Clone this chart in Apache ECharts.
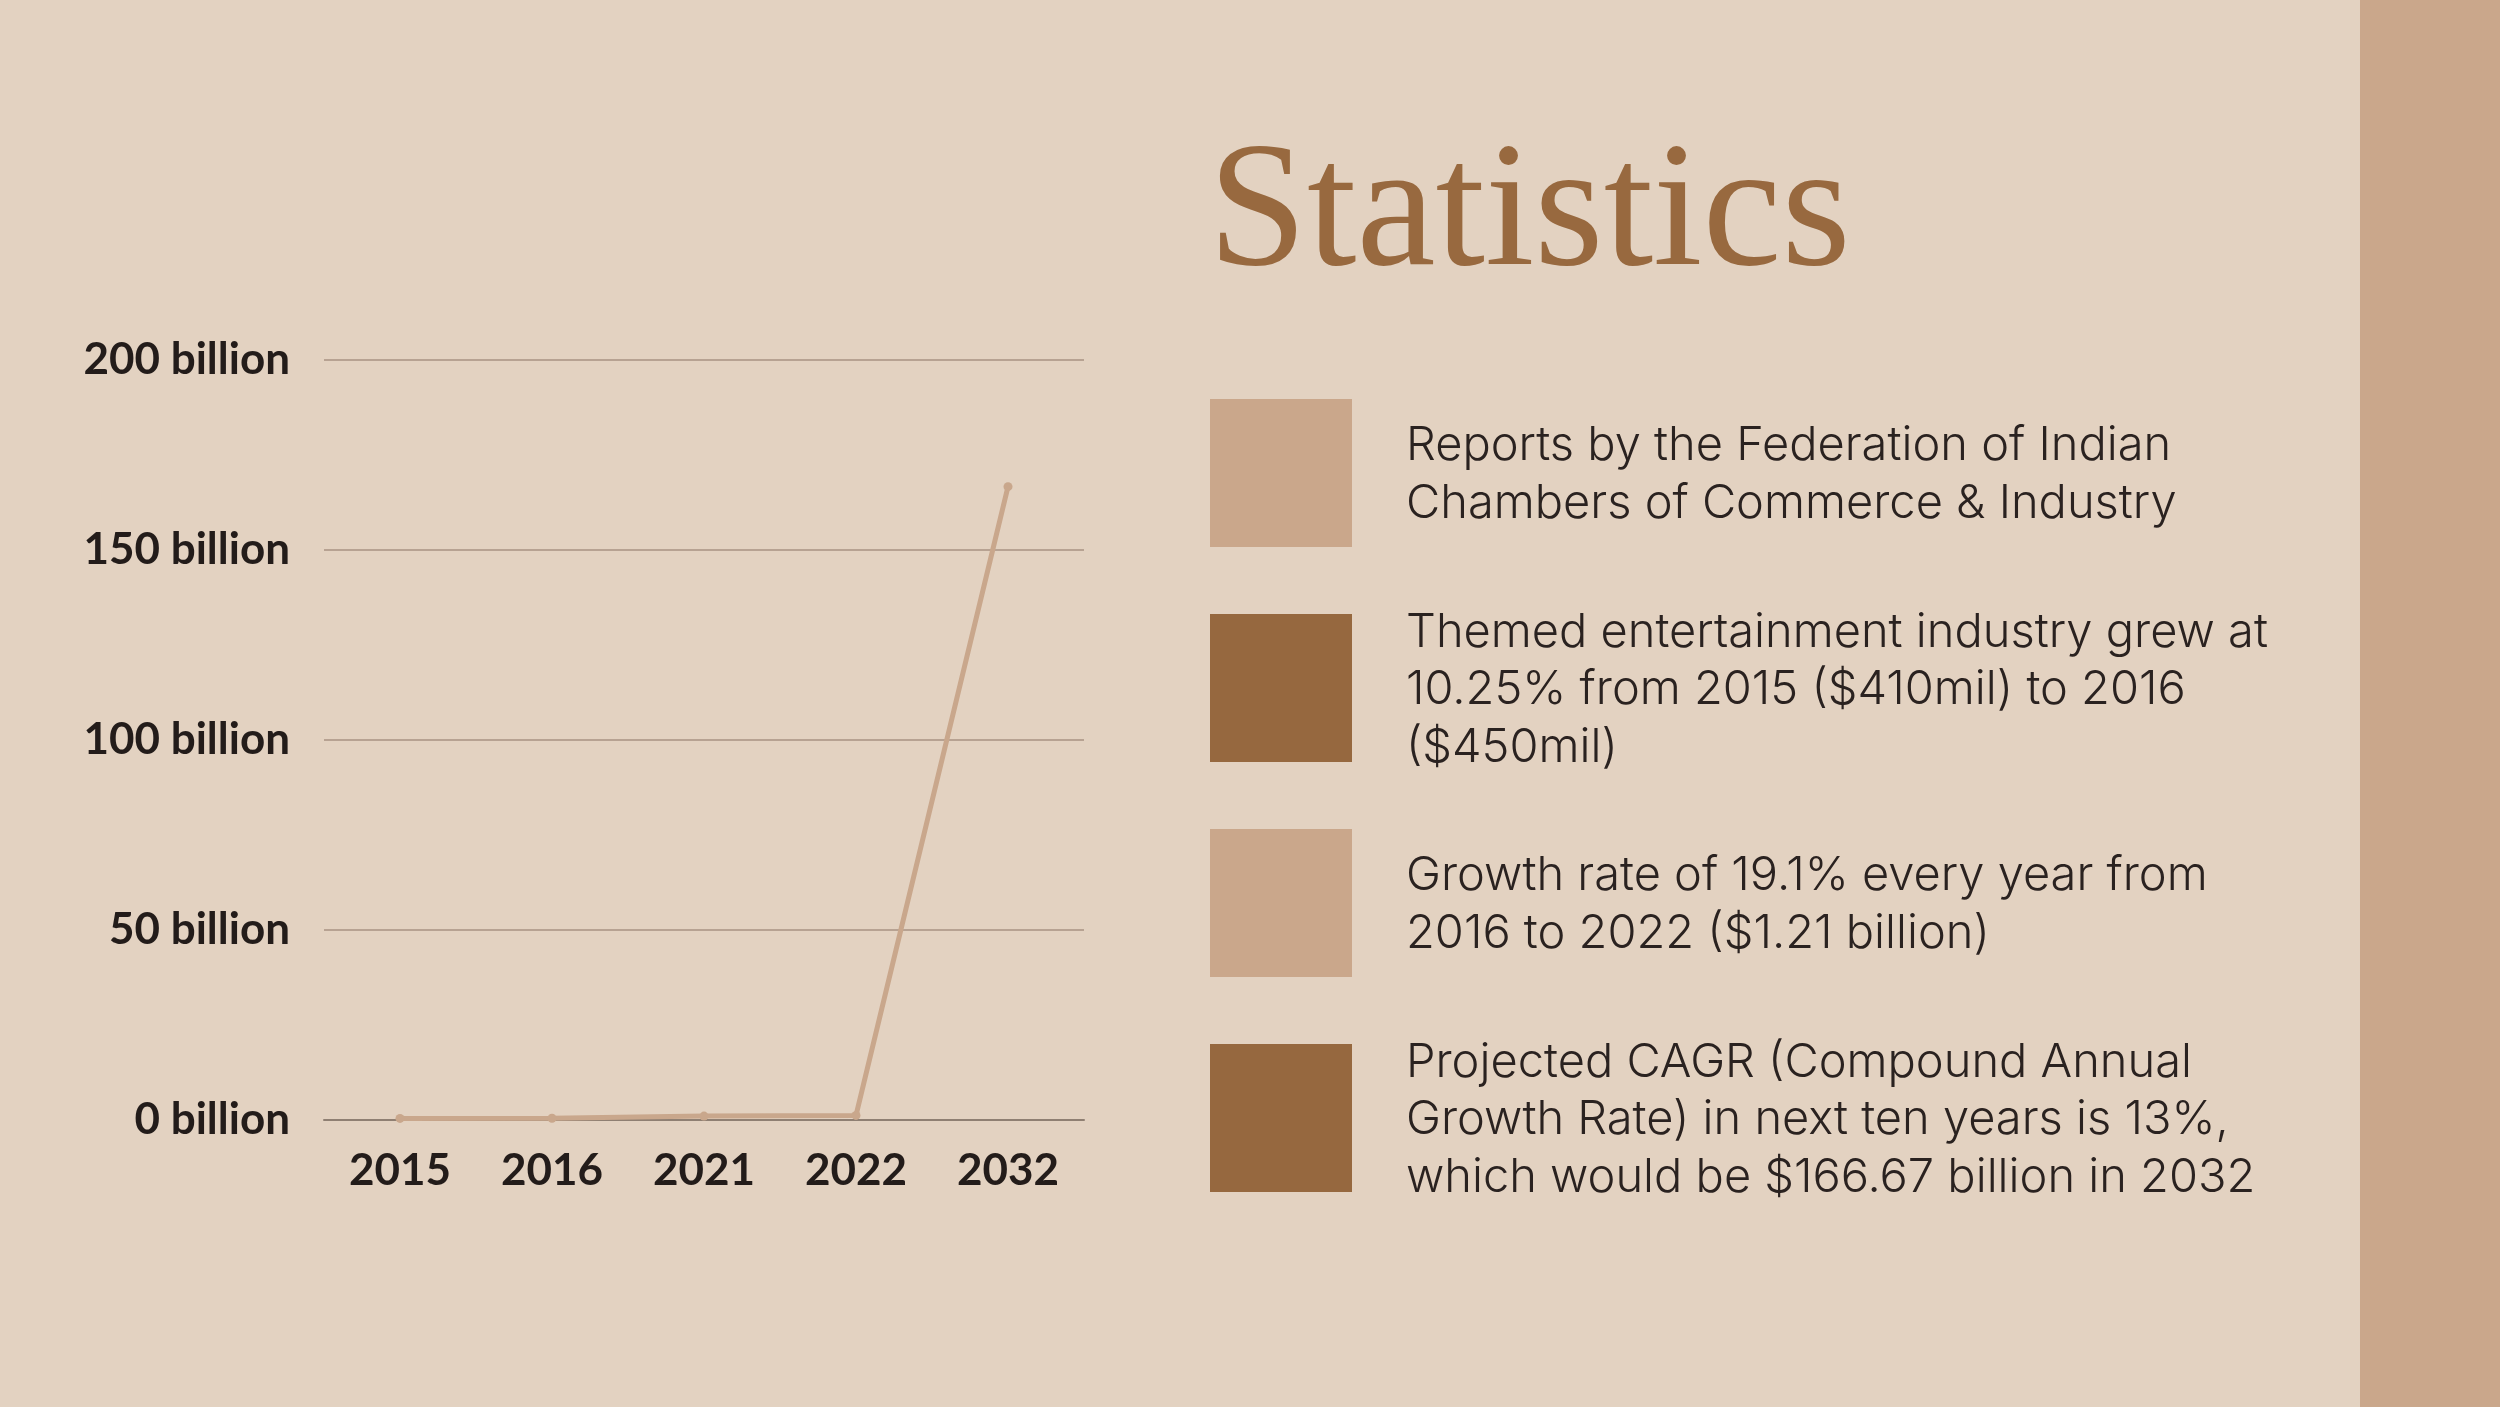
<!DOCTYPE html>
<html>
<head>
<meta charset="utf-8">
<style>
  html, body { margin: 0; padding: 0; background: #E3D2C1; }
  #main { width: 2500px; height: 1407px; }
</style>
<script src="https://cdn.jsdelivr.net/npm/echarts@6/dist/echarts.min.js"></script>
</head>
<body>
<div id="main"></div>
<script>
// market size by year (billions of USD)
var years = ['2015', '2016', '2021', '2022', '2032'];
var marketSize = [0.41, 0.45, 1.02, 1.21, 166.67];
var yTicks = [0, 50, 100, 150, 200];

// notes shown at the right, one block per square
var notes = [
    ['Reports by the Federation of Indian', 'Chambers of Commerce & Industry'],
    ['Themed entertainment industry grew at', '10.25% from 2015 ($410mil) to 2016', '($450mil)'],
    ['Growth rate of 19.1% every year from', '2016 to 2022 ($1.21 billion)'],
    ['Projected CAGR (Compound Annual', 'Growth Rate) in next ten years is 13%,', 'which would be $166.67 billion in 2032']
];
var noteColors = ['#CAA78B', '#96683F', '#CAA78B', '#96683F'];

var myChart = echarts.init(document.getElementById('main'));

// 右侧的方块和说明文字
var graphics = [
    { type: 'rect', left: 2360, top: 0, shape: { width: 140, height: 1407 }, style: { fill: '#CAA78B' } },
    {
        type: 'text', left: 1208, top: 128,
        style: { text: 'Statistics', font: '178px "Liberation Serif"', fill: '#98693F' }
    }
];
var rowTops = [399, 614, 829, 1044];
notes.forEach(function (lines, i) {
    graphics.push({
        type: 'rect', left: 1210, top: rowTops[i],
        shape: { width: 142, height: 148 },
        style: { fill: noteColors[i] }
    });
    var mid = rowTops[i] + 74;
    graphics.push({
        type: 'text', left: 1406, top: mid - lines.length * 57.5 / 2 + 2,
        style: {
            text: lines.join('\n'),
            font: '300 47px Inter',
            lineHeight: 57.5,
            fill: '#2A2220'
        }
    });
});

var option = {
    backgroundColor: '#E3D2C1',
    animation: false,
    graphic: graphics,
    grid: { left: 324, right: 1416, top: 360, bottom: 287 },
    xAxis: {
        type: 'category',
        data: years,
        axisLine: { show: true, lineStyle: { color: '#8F7F72', width: 2 } },
        axisTick: { show: false },
        axisLabel: {
            margin: 29,
            color: '#231C1A',
            fontFamily: 'Lato',
            fontWeight: 'bold',
            fontSize: 44
        }
    },
    yAxis: {
        type: 'value',
        min: 0,
        max: 200,
        interval: 50,
        axisLine: { show: false },
        axisTick: { show: false },
        splitLine: { lineStyle: { color: '#B7A292', width: 2 } },
        axisLabel: {
            margin: 34,
            color: '#231C1A',
            fontFamily: 'Lato',
            fontWeight: 'bold',
            fontSize: 44,
            formatter: function (v) { return yTicks.indexOf(v) >= 0 ? v + ' billion' : ''; }
        }
    },
    series: [{
        type: 'line',
        data: marketSize,
        symbol: 'circle',
        symbolSize: 9,
        lineStyle: { color: '#C9A78C', width: 5 },
        itemStyle: { color: '#C9A78C' }
    }]
};

myChart.setOption(option);
</script>
</body>
</html>
